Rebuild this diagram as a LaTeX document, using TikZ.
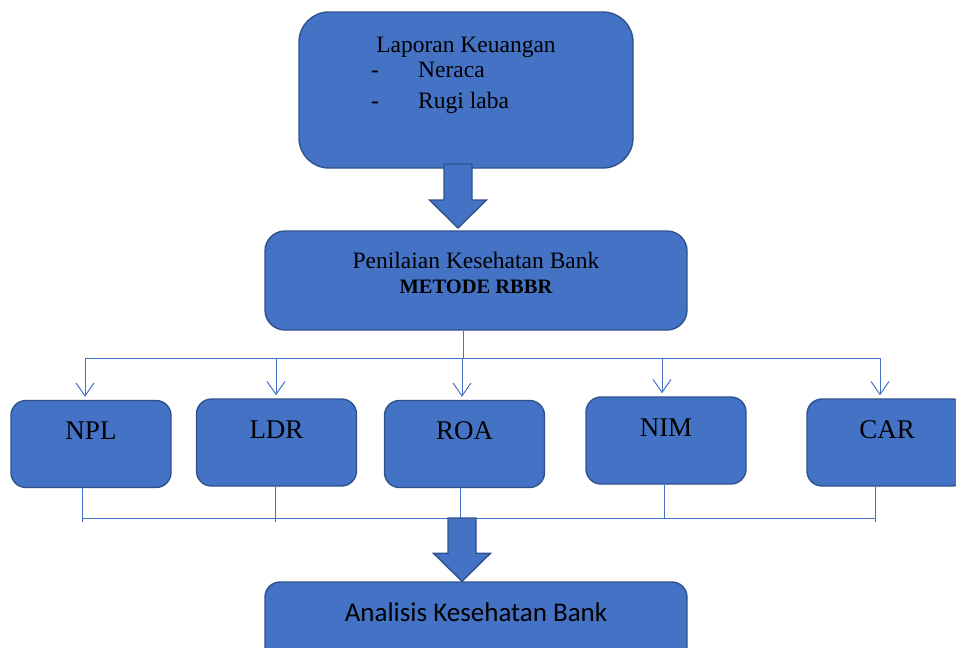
\documentclass[tikz,border=0pt]{standalone}
\usepackage{fontspec}
\setmainfont{Liberation Serif}
\newfontfamily\calibri{Carlito}
\usetikzlibrary{arrows.meta,positioning,calc}
\definecolor{boxblue}{HTML}{4472C4}
\definecolor{boxedge}{HTML}{2F528F}
\tikzset{
  rbox/.style={draw=boxedge, line width=1.4pt, fill=boxblue, rounded corners=#1, inner sep=0pt},
  rbox/.default=15pt,
  kpi/.style={rbox=15pt, minimum width=160pt, minimum height=87pt},
  txt/.style={font=\fontsize{23.5}{28}\selectfont, inner sep=0pt},
  kpitxt/.style={font=\fontsize{27}{32}\selectfont, inner sep=0pt},
  bline/.style={boxblue, line width=1pt},
  barr/.style={bline, -{Straight Barb[length=13pt,width=18pt]}, shorten >=3pt},
  fatarr/.style={draw=boxedge, line width=1.4pt, fill=boxblue, line join=miter},
}
\newcommand{\fatarrow}[2]{%
  \draw[fatarr] let \p1=(#1), \p2=(#2) in
    (\x1-14pt,\y1) -- (\x1+14pt,\y1) -- (\x1+14pt,\y2+28pt) -- (\x1+28.5pt,\y2+28pt)
    -- (\x1,\y2) -- (\x1-28.5pt,\y2+28pt) -- (\x1-14pt,\y2+28pt) -- cycle;}

\begin{document}
\begin{tikzpicture}[x=1pt,y=-1pt]
\useasboundingbox (0,0) rectangle (956,648);
\clip (0,0) rectangle (956,648);
% top box
\node[rbox=30pt, minimum width=334pt, minimum height=156pt] (lap) at (466,90) {};
\node[txt, anchor=base] (lapT) at (466,52) {Laporan Keuangan};
\node[txt, anchor=base] (d1) at (375,77) {-};
\node[txt, anchor=base west] (nerT) at (418,77) {Neraca};
\node[txt, anchor=base] (d2) at (375,108) {-};
\node[txt, anchor=base west] (rugT) at (418,108) {Rugi laba};
% method box
\node[rbox=20pt, minimum width=422pt, minimum height=99pt] (rbbr) at (476,280.5) {};
\node[txt, anchor=base] (penT) at (476,268) {Penilaian Kesehatan Bank};
\node[txt, font=\fontsize{20.5}{24}\selectfont\bfseries, anchor=base] (metT) at (476,293) {METODE RBBR};
% ratios
\foreach \n/\t/\x/\y in {npl/NPL/91/444, ldr/LDR/276.5/442.5, roa/ROA/464.5/444, nim/NIM/666/440.5, car/CAR/887/442.5} {
  \node[kpi] (\n) at (\x,\y) {};
  \node[kpitxt, anchor=base] (\n-t) at ($(\n.north)+(0,40)$) {\t};
}
% result box
\node[rbox=15pt, minimum width=422pt, minimum height=99pt] (anl) at (476,631.5) {};
\node[font=\calibri\fontsize{27}{32}\selectfont, inner sep=0pt, anchor=base] (anlT) at (476,621) {Analisis Kesehatan Bank};

% upper bus
\coordinate (bus) at (463,358);
\draw[bline] (rbbr.south -| bus) -- (bus);
\coordinate (busL) at (85,358);
\coordinate (busR) at (880,358);
\draw[bline] (busL) -- (busR);
\foreach \n/\x in {npl/85, ldr/276, roa/462, nim/662, car/880} {
  \coordinate (t\n) at (\x,358);
  \draw[barr] (t\n) -- (t\n |- \n.north);
}
% lower bus
\foreach \n/\x in {npl/82, ldr/275, roa/460, nim/664, car/875} {
  \coordinate (b\n) at (\x,518);
  \draw[bline] (\n.south -| b\n) -- (b\n);
}
\draw[bline] (bnpl) -- (bcar);
\foreach \n in {npl, ldr, car} \draw[bline] (b\n) -- ++(0,4);

% block arrows
\coordinate (a1) at (458,164);
\coordinate (a1t) at (458,228);
\fatarrow{a1}{a1t}
\coordinate (a2) at (462,518);
\coordinate (a2t) at (a2 |- anl.north);
\fatarrow{a2}{a2t}
\end{tikzpicture}
\end{document}
